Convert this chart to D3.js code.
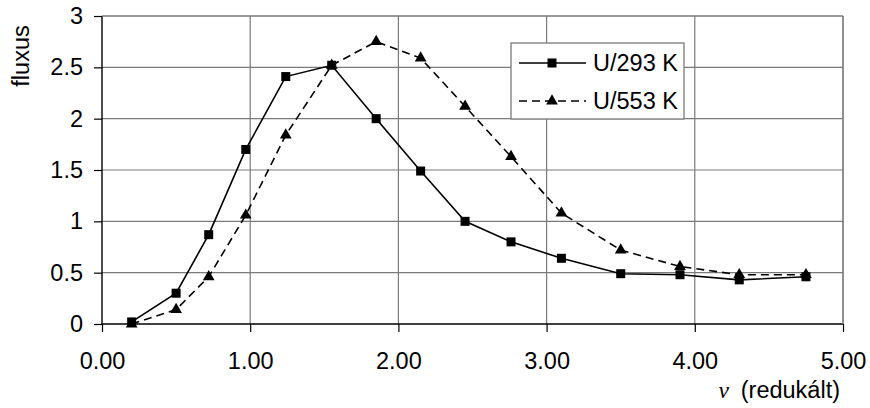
<!DOCTYPE html>
<html>
<head>
<meta charset="utf-8">
<script src="https://cdn.jsdelivr.net/npm/d3@7"></script>
<style>
  html, body { margin: 0; padding: 0; background: #fff; }
  svg text { font-family: Arial, "Liberation Sans", sans-serif; fill: #000; }
</style>
</head>
<body>
<svg id="chart" width="870" height="408"></svg>
<script>
// reduced velocity values (shared by both series)
const velocity = [0.2, 0.5, 0.72, 0.97, 1.24, 1.55, 1.85, 2.15, 2.45, 2.76, 3.1, 3.5, 3.9, 4.3, 4.75];
// flux at 293 K and 553 K
const flux293 = [0.02, 0.30, 0.87, 1.70, 2.41, 2.52, 2.00, 1.49, 1.00, 0.80, 0.64, 0.49, 0.48, 0.43, 0.46];
const flux553 = [0.00, 0.14, 0.46, 1.06, 1.84, 2.52, 2.75, 2.59, 2.12, 1.63, 1.08, 0.72, 0.56, 0.48, 0.48];
const seriesNames = ["U/293 K", "U/553 K"];
const xTicks = [0, 1, 2, 3, 4, 5];
const yTicks = [0, 0.5, 1, 1.5, 2, 2.5, 3];

const svg = d3.select("#chart");
const margin = { left: 102, top: 16, right: 27, bottom: 84 };
const W = 870, H = 408;
const x = d3.scaleLinear().domain([0, 5]).range([margin.left, W - margin.right]);
const y = d3.scaleLinear().domain([0, 3]).range([H - margin.bottom, margin.top]);

const FS = 23.5;
const GRID = "#7a7a7a";

// grid
const grid = svg.append("g").attr("stroke", GRID).attr("stroke-width", 1.2);
grid.selectAll("line.h").data(yTicks.slice(1)).join("line")
  .attr("x1", x(0)).attr("x2", x(5))
  .attr("y1", d => y(d)).attr("y2", d => y(d));
grid.selectAll("line.v").data(xTicks.slice(1)).join("line")
  .attr("x1", d => x(d)).attr("x2", d => x(d))
  .attr("y1", y(0)).attr("y2", y(3));

// axes
const xAxis = d3.axisBottom(x).tickValues(xTicks).tickFormat(d3.format(".2f")).tickSize(8).tickPadding(20);
const yAxis = d3.axisLeft(y).tickValues(yTicks).tickFormat(d => d).tickSize(8).tickPadding(11);

const gx = svg.append("g").attr("transform", `translate(0,${y(0)})`).call(xAxis);
const gy = svg.append("g").attr("transform", `translate(${x(0)},0)`).call(yAxis);
[gx, gy].forEach(g => {
  g.select(".domain").remove();
  g.selectAll(".tick line").attr("stroke", "#000").attr("stroke-width", 1.2);
  g.selectAll(".tick text").attr("font-size", FS).attr("font-family", "Arial, 'Liberation Sans', sans-serif").attr("fill", "#000");
});
gx.selectAll(".tick text").attr("dy", "0.71em");
svg.append("line").attr("x1", x(0)).attr("x2", x(5)).attr("y1", y(0)).attr("y2", y(0))
  .attr("stroke", "#000").attr("stroke-width", 1.4);
svg.append("line").attr("x1", x(0)).attr("x2", x(0)).attr("y1", y(0)).attr("y2", y(3))
  .attr("stroke", "#000").attr("stroke-width", 1.4);

// axis titles
svg.append("text").attr("transform", `translate(29,${56}) rotate(-90)`)
  .attr("text-anchor", "middle").attr("font-size", FS).text("fluxus");
const xt = svg.append("text").attr("x", W - 30).attr("y", 398).attr("text-anchor", "end").attr("font-size", FS);
xt.append("tspan").attr("font-family", "'Liberation Serif', 'Times New Roman', serif").attr("font-style", "italic").text("v");
xt.append("tspan").text("\u2002(redukált)");

// series
const line = d3.line().x(d => x(d[0])).y(d => y(d[1]));
const pts293 = velocity.map((v, i) => [v, flux293[i]]);
const pts553 = velocity.map((v, i) => [v, flux553[i]]);

svg.append("path").datum(pts553).attr("d", line).attr("fill", "none")
  .attr("stroke", "#000").attr("stroke-width", 1.6).attr("stroke-dasharray", "8,5");
svg.append("path").datum(pts293).attr("d", line).attr("fill", "none")
  .attr("stroke", "#000").attr("stroke-width", 1.6);

const tri = d3.symbol().type(d3.symbolTriangle).size(60);
svg.append("g").selectAll("path").data(pts553).join("path")
  .attr("d", tri).attr("transform", d => `translate(${x(d[0])},${y(d[1])})`).attr("fill", "#000");
svg.append("g").selectAll("rect").data(pts293).join("rect")
  .attr("x", d => x(d[0]) - 4.5).attr("y", d => y(d[1]) - 4.5)
  .attr("width", 9).attr("height", 9).attr("fill", "#000");

// frame top/right
svg.append("line").attr("x1", x(0)).attr("x2", x(5)).attr("y1", y(3)).attr("y2", y(3)).attr("stroke", GRID).attr("stroke-width", 1.2);
svg.append("line").attr("x1", x(5)).attr("x2", x(5)).attr("y1", y(0)).attr("y2", y(3)).attr("stroke", GRID).attr("stroke-width", 1.2);

// legend
const lg = svg.append("g").attr("transform", "translate(511,43)");
lg.append("rect").attr("width", 173).attr("height", 76).attr("fill", "#fff").attr("stroke", GRID).attr("stroke-width", 1.3);
const rows = [
  { name: seriesNames[0], dash: null, cy: 20 },
  { name: seriesNames[1], dash: "8,5", cy: 58 }
];
rows.forEach(r => {
  lg.append("line").attr("x1", 8).attr("x2", 75).attr("y1", r.cy).attr("y2", r.cy)
    .attr("stroke", "#000").attr("stroke-width", 1.6).attr("stroke-dasharray", r.dash);
  if (r.dash) {
    lg.append("path").attr("d", tri).attr("transform", `translate(41,${r.cy})`).attr("fill", "#000");
  } else {
    lg.append("rect").attr("x", 36.5).attr("y", r.cy - 4.5).attr("width", 9).attr("height", 9).attr("fill", "#000");
  }
  lg.append("text").attr("x", 82).attr("y", r.cy).attr("dy", "0.36em").attr("font-size", FS).text(r.name);
});
</script>
</body>
</html>
